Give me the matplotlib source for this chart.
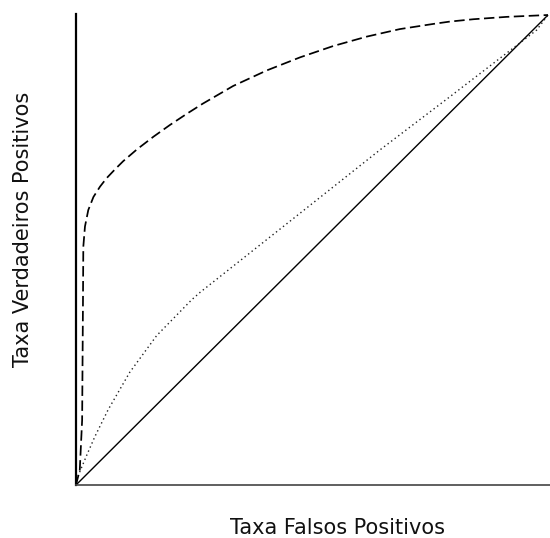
import numpy as np
import matplotlib
matplotlib.use("Agg")
import matplotlib.pyplot as plt

# ROC curves: random guess, weak classifier, strong classifier
fpr_random = [0.0, 1.0]
tpr_random = [0.0, 1.0]

fpr_weak = [0.0, 0.005, 0.023, 0.040, 0.068, 0.114, 0.171, 0.245, 0.263, 0.453,
            0.644, 0.792, 0.976, 1.0]
tpr_weak = [0.0, 0.021, 0.064, 0.103, 0.160, 0.240, 0.318, 0.394, 0.410, 0.561,
            0.713, 0.826, 0.968, 1.0]

fpr_good = [0.0, 0.008, 0.013, 0.0148, 0.0155, 0.019, 0.026, 0.037, 0.051, 0.065,
            0.083, 0.100, 0.129, 0.164, 0.199, 0.235, 0.268, 0.333, 0.404, 0.475,
            0.545, 0.616, 0.686, 0.757, 0.792, 0.842, 0.912, 1.0]
tpr_good = [0.0, 0.032, 0.138, 0.394, 0.507, 0.550, 0.585, 0.613, 0.635, 0.653,
            0.672, 0.689, 0.714, 0.741, 0.766, 0.790, 0.811, 0.849, 0.882, 0.910,
            0.934, 0.954, 0.970, 0.981, 0.986, 0.991, 0.996, 1.0]

plt.rcParams['font.family'] = ['DejaVu Sans']

fig = plt.figure(figsize=(5.5, 5.38), dpi=100)
ax = fig.add_axes([76 / 550, 53 / 538, 474 / 550, 471 / 538])

ax.plot(fpr_random, tpr_random, color='black', lw=1.0, solid_capstyle='butt')
ax.plot(fpr_weak, tpr_weak, color='#222222', lw=1.0, linestyle=(0, (1, 2.2)))
ax.plot(fpr_good, tpr_good, color='black', lw=1.25, linestyle=(0, (6, 2.6)))

ax.set_xlim(0, 474 / 472)
ax.set_ylim(0, 471 / 470)
ax.set_xticks([])
ax.set_yticks([])
ax.spines['top'].set_visible(False)
ax.spines['right'].set_visible(False)
ax.spines['left'].set_linewidth(1.6)
ax.spines['left'].set_color('black')
ax.spines['bottom'].set_linewidth(1.2)
ax.spines['bottom'].set_color('#444444')

fig.text(338 / 550, 3.5 / 538, 'Taxa Falsos Positivos', fontsize=15,
         ha='center', va='baseline', color='#111111')
fig.text(29.5 / 550, (538 - 229.5) / 538, 'Taxa Verdadeiros Positivos', fontsize=15,
         rotation=90, rotation_mode='anchor', ha='center', va='baseline',
         color='#111111')

fig.savefig('out.png', dpi=100)
